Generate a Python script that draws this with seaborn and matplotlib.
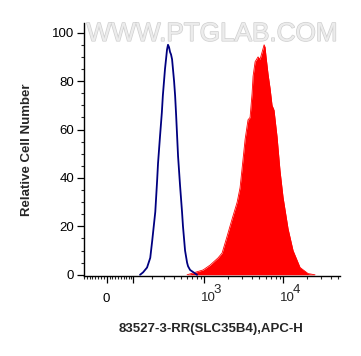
import numpy as np
import pandas as pd
import seaborn as sns
import matplotlib.pyplot as plt
import matplotlib.patheffects as pe
import matplotlib.transforms as mtransforms
from matplotlib.ticker import FixedLocator, MultipleLocator

# ==================== DATA ====================
# control (isotype) histogram
ctrl_x = [132, 148, 171, 191, 204, 226, 240, 247, 263, 279, 288, 308, 318, 328,
          338, 349, 360, 371, 383, 407, 420, 433, 459, 487, 517, 532, 566, 601,
          619, 657, 807]
ctrl_y = [0, 1, 3, 7, 14, 26, 39, 46, 57, 67, 74, 85, 89, 93,
          95, 94, 92, 91, 89, 80, 74, 66, 49, 37, 26, 20, 10, 5,
          3.5, 2, 0]

# stained sample histogram
stain_x = [601, 761, 964, 1183, 1496, 1682, 1949, 2250, 2610, 2842, 3016, 3294,
           3584, 3805, 4037, 4153, 4408, 4802, 5092, 5406, 5730, 5893, 6067,
           6426, 6821, 7227, 7656, 8364, 9118, 9964, 11530, 13340, 16360,
           20650, 25290]
stain_y = [0, 1, 2, 4, 7, 9, 16, 23, 30, 36, 44, 56,
           64, 65, 75, 82, 88, 90, 89, 92, 95, 94, 90,
           83, 77, 70, 68, 57, 43, 32, 19, 10, 3,
           0.5, 0]

x_major = [-100, 0, 100, 1000, 10000]
x_major_labels = ['', '0', '', '', '']
decade_ticks = [1000, 10000]
decade_exps = ['3', '4']
x_minor = ([-90, -80, -70, -60, -50, -40, -30, -20, -10, 10, 20, 30, 40, 50, 60, 70, 80, 90]
           + [200, 300, 400, 500, 600, 700, 800, 900]
           + [2000, 3000, 4000, 5000, 6000, 7000, 8000, 9000]
           + [20000, 30000, 40000, 50000])

x_title = "83527-3-RR(SLC35B4),APC-H"
y_title = "Relative Cell Number"

# ==================== STYLE ====================
sns.set_style("ticks")
plt.rcParams['font.family'] = ['Liberation Sans', 'DejaVu Sans']

fig = plt.figure(figsize=(3.61, 3.56), dpi=100)
ax = fig.add_axes([84 / 361, 1 - 276 / 356, 256 / 361, 253 / 356])

ctrl = pd.DataFrame({'x': ctrl_x, 'y': ctrl_y})
stain = pd.DataFrame({'x': stain_x, 'y': stain_y})

ax.set_xscale('asinh', linear_width=116)

# stained sample: filled red
ax.fill_between(stain['x'], stain['y'], 0, color='#ff0000', linewidth=0, zorder=2)
sns.lineplot(data=stain, x='x', y='y', ax=ax, color='#ff0000', linewidth=0.6,
             sort=False, zorder=2)
# control: dark blue outline
sns.lineplot(data=ctrl, x='x', y='y', ax=ax, color='#000080', linewidth=1.3,
             sort=False, zorder=3)

ax.set_xlim(-82, 52400)
ax.set_ylim(-0.5, 104)

ax.xaxis.set_major_locator(FixedLocator(x_major))
ax.set_xticklabels(x_major_labels)
ax.xaxis.set_minor_locator(FixedLocator(x_minor))
ax.yaxis.set_major_locator(MultipleLocator(20))
ax.yaxis.set_minor_locator(MultipleLocator(5))

ax.tick_params(axis='both', which='major', length=5, width=0.9, labelsize=9.5,
               direction='out', pad=2, colors='black')
ax.tick_params(axis='x', which='major', pad=7)
ax.tick_params(axis='both', which='minor', length=2.5, width=0.8, direction='out')

# decade labels as 10 with a raised exponent
trans = mtransforms.blended_transform_factory(ax.transData, ax.transAxes)
for xv, e in zip(decade_ticks, decade_exps):
    off = mtransforms.offset_copy(trans, fig=fig, x=4, y=0, units='dots')
    ax.text(xv, -0.085, '10', transform=off, ha='center', va='center',
            fontsize=9.5, clip_on=False)
    off2 = mtransforms.offset_copy(trans, fig=fig, x=13, y=8, units='dots')
    ax.text(xv, -0.085, e, transform=off2, ha='center', va='center',
            fontsize=9.5, clip_on=False)

for s in ['top', 'right']:
    ax.spines[s].set_visible(False)
for s in ['left', 'bottom']:
    ax.spines[s].set_linewidth(1.0)
    ax.spines[s].set_color('black')

ax.set_xlabel(x_title, fontsize=9.5, fontweight='bold')
ax.set_ylabel(y_title, fontsize=9.5, fontweight='bold')
ax.xaxis.label.set_va('center')
ax.yaxis.label.set_va('center')
ax.xaxis.set_label_coords(0.496, -0.21)
ax.yaxis.set_label_coords(-0.223, 0.5)

# watermark
ax.text(0.5, 0.957, "WWW.PTGLAB.COM", transform=ax.transAxes, ha='center',
        va='center', fontsize=18.8, color='#ececec', zorder=1,
        path_effects=[pe.withStroke(linewidth=1.0, foreground='#cfcfcf')])

fig.savefig("out.png", dpi=100)
plt.close(fig)
